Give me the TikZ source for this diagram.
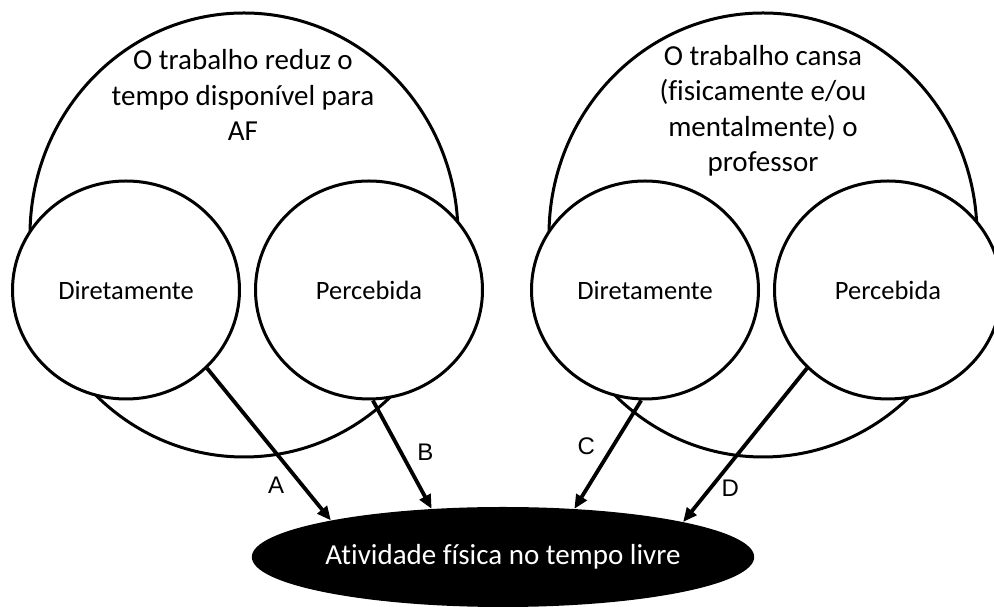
\documentclass[tikz,border=0pt]{standalone}
\usepackage{fontspec}
\setmainfont{Carlito}[Ligatures=NoCommon]
\newfontfamily\letterfont{Liberation Sans}
\usetikzlibrary{shapes.geometric, arrows.meta, positioning}

\begin{document}
\begin{tikzpicture}[x=1bp, y=1bp,
    factor/.style={draw, ellipse, line width=3bp, minimum width=428bp, minimum height=444bp, inner sep=0pt},
    way/.style={draw, ellipse, fill=white, line width=3bp, minimum width=227bp, minimum height=218bp, inner sep=0pt, font=\fontsize{26.5bp}{32bp}\selectfont},
    bigtext/.style={align=center, font=\fontsize{29bp}{35.5bp}\selectfont},
    link/.style={line width=3.8bp, -{Triangle[length=14bp, width=12bp]}},
    letter/.style={font=\letterfont\fontsize{24bp}{28bp}\selectfont}]
  \useasboundingbox (0,0) rectangle (994,607);

  % the two causes
  \node[factor] (tempo) at (244,372) {};
  \node[factor] (cansa) at (763,372) {};
  \node[bigtext] at (243,512) {O trabalho reduz o\\tempo disponível para\\AF};
  \node[bigtext] at (763,496) {O trabalho cansa\\(fisicamente e/ou\\mentalmente) o\\professor};

  \node[way] (dirL) at (126,317) {Diretamente};
  \node[way] (perL) at (369,317) {Percebida};
  \node[way] (dirR) at (645,317) {Diretamente};
  \node[way] (perR) at (888,317) {Percebida};

  % outcome
  \node[ellipse, fill=black, text=white, minimum width=490bp, minimum height=100bp, inner sep=0pt,
        font=\fontsize{29bp}{35bp}\selectfont] (atf) at (503,50) {Atividade física no tempo livre};

  \draw[link] (dirL.-44) -- (atf.168.6) node[letter, pos=0.77, left=13bp] {A};
  \draw[link] (perL.-88) -- (atf.146) node[letter, pos=0.48, right=11bp] {B};
  \draw[link] (dirR.-92) -- (atf.34) node[letter, pos=0.42, left=13bp] {C};
  \draw[link] (perR.-136) -- (atf.11.4) node[letter, pos=0.78, right=6bp] {D};
\end{tikzpicture}
\end{document}
